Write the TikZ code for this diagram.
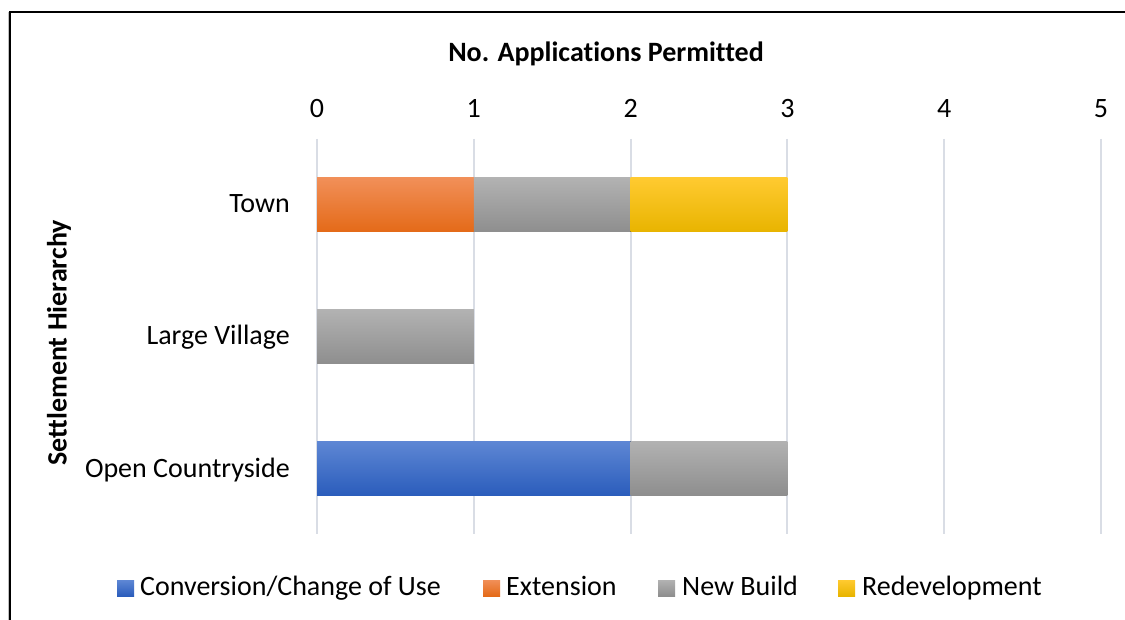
\documentclass[tikz,border=0pt]{standalone}
\usepackage{fontspec}
\setmainfont[Ligatures={NoCommon}]{Carlito}
\begin{document}
\begin{tikzpicture}[x=1pt,y=-1pt,
  lbl/.style={inner sep=0pt,font=\fontsize{28}{30}\selectfont},
  bold/.style={inner sep=0pt,font=\fontsize{28}{30}\selectfont\bfseries},
  grid/.style={draw={rgb,255:red,217;green,221;blue,229},line width=2pt},
  barblue/.style={top color={rgb,255:red,94;green,135;blue,212},bottom color={rgb,255:red,43;green,93;blue,188}},
  barorange/.style={top color={rgb,255:red,241;green,143;blue,88},bottom color={rgb,255:red,228;green,106;blue,24}},
  bargray/.style={top color={rgb,255:red,178;green,178;blue,178},bottom color={rgb,255:red,142;green,142;blue,142}},
  baryellow/.style={top color={rgb,255:red,255;green,202;blue,48},bottom color={rgb,255:red,232;green,180;blue,0}},
  legsq/.style={minimum width=17pt,minimum height=16pt,inner sep=0pt}
]
\useasboundingbox (0,0) rectangle (1125,620);
\fill[white] (0,0) rectangle (1125,620);
% frame
\draw[gray!50,line width=1pt] (8,12) -- (8,620);
\draw[black,line width=2.2pt] (10,12) -- (10,620);
\draw[black,line width=2.2pt] (9,12) -- (1125,12);
% grid
\foreach \i in {0,...,5}{
  \draw[grid] ({317+156.8*\i},139) -- ({317+156.8*\i},534);
  \node[lbl,anchor=base] (t\i) at ({317+156.8*\i},118) {\i};
}
% bars
\def\u{156.8}
\fill[barorange] (317,178) rectangle ({317+\u},232);
\fill[bargray] ({317+\u},178) rectangle ({317+2*\u},232);
\fill[baryellow] ({317+2*\u},178) rectangle ({317+3*\u},232);
\fill[bargray] (317,310) rectangle ({317+\u},364);
\fill[barblue] (317,441) rectangle ({317+2*\u},495);
\fill[bargray] ({317+2*\u},441) rectangle ({317+3*\u},495);
% category labels
\node[lbl,anchor=base east] (town) at (290,213) {Town};
\node[lbl,anchor=base east] (lv) at (290,345) {Large Village};
\node[lbl,anchor=base east] (oc) at (290,477) {Open Countryside};
% titles
\node[bold,anchor=base] (xt) at (606,62) {No. Applications Permitted};
\node[bold,rotate=90] (yt) at (59,343) {Settlement Hierarchy};
% legend
\node[legsq,barblue] (l1) at (125.5,588) {};
\node[lbl,anchor=base west] (l1t) at (140,595) {Conversion/Change of Use};
\node[legsq,barorange] (l2) at (491.5,588) {};
\node[lbl,anchor=base west] (l2t) at (506,595) {Extension};
\node[legsq,bargray] (l3) at (666.5,588) {};
\node[lbl,anchor=base west] (l3t) at (682,595) {New Build};
\node[legsq,baryellow] (l4) at (846.5,588) {};
\node[lbl,anchor=base west] (l4t) at (862,595) {Redevelopment};
\end{tikzpicture}
\end{document}
